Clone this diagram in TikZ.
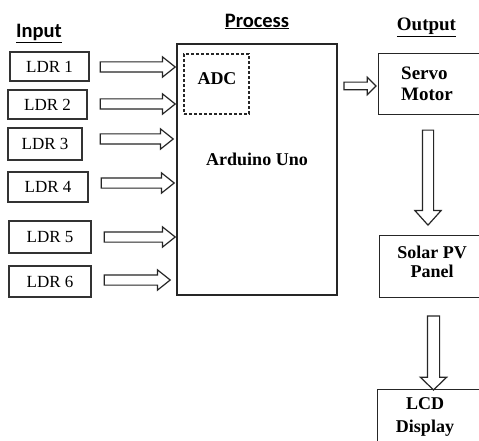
\documentclass[tikz,border=0pt]{standalone}
\usepackage{fontspec}
\setmainfont{Liberation Serif}
\newfontfamily\lblfont{Carlito}
\usetikzlibrary{shapes.arrows}
\tikzset{
  ldrbox/.style={draw=black!80, line width=1.1pt, inner sep=0pt, font=\fontsize{17}{20}\selectfont},
  box/.style={draw=black!85, line width=1.2pt, inner sep=0pt},
  btxt/.style={inner sep=0pt, align=center, font=\fontsize{18}{21}\selectfont\bfseries},
  hdr/.style={inner sep=0pt, font=\fontsize{20.5}{23}\selectfont\lblfont\bfseries},
  blk/.style={single arrow, draw=black!85, line width=1.2pt, inner xsep=0pt, fill=white},
}
\begin{document}
\begin{tikzpicture}[x=1pt,y=-1pt]
\useasboundingbox (0,0) rectangle (479,441);
\clip (0,0) rectangle (479,441);
\fill[white] (0,0) rectangle (479,441);
% headers
\node[hdr] (hin) at (39,33.5) {\underline{Input}};
\node[hdr] (hpr) at (257,21.5) {\underline{Process}};
\node[btxt, font=\fontsize{19}{22}\selectfont\bfseries] (hout) at (426.5,27) {\underline{Output}};
% LDR boxes
\node[ldrbox, minimum width=79, minimum height=29] (l1) at (49.5,66.5) {LDR 1};
\node[ldrbox, minimum width=79, minimum height=29] (l2) at (47.5,104.5) {LDR 2};
\node[ldrbox, minimum width=74, minimum height=32] (l3) at (45,144) {LDR 3};
\node[ldrbox, minimum width=80, minimum height=30] (l4) at (48,187) {LDR 4};
\node[ldrbox, minimum width=82, minimum height=32] (l5) at (50,237) {LDR 5};
\node[ldrbox, minimum width=82, minimum height=31] (l6) at (50,281.5) {LDR 6};
% input arrows
\tikzset{inarr/.style={blk, inner ysep=4.5pt, single arrow head extend=5pt, minimum width=19pt, single arrow tip angle=77}}
\node[inarr, minimum height=75] (a1) at (134.5,67) {};
\node[inarr, minimum height=75] (a2) at (134.5,104) {};
\node[inarr, minimum height=73] (a3) at (133.5,139) {};
\node[inarr, minimum height=73] (a4) at (134.5,183) {};
\node[inarr, minimum height=71] (a5) at (136.5,237) {};
\node[inarr, minimum height=66] (a6) at (134,280) {};
% Arduino
\node[box, minimum width=160, minimum height=251] (ard) at (257,169.5) {};
\node[box, dashed, line width=1.1pt, dash pattern=on 3pt off 2pt, minimum width=65, minimum height=60] (adc) at (216.5,84) {};
\node[btxt] (adct) at (217,79) {ADC};
\node[btxt] (ardt) at (257,159) {Arduino Uno};
% arrow to servo
\node[blk, inner ysep=3.25pt, single arrow head extend=4.75pt, minimum width=16pt, single arrow tip angle=90, minimum height=32] (a7) at (358,86) {};
% Servo
\node[box, anchor=north west, minimum width=110, minimum height=61] (servo) at (378,53) {};
\node[btxt, align=left, anchor=west, font=\fontsize{19}{21}\selectfont\bfseries] (servot) at (401,84) {Servo\\Motor};
% down arrow
\node[blk, rotate=-90, inner ysep=5pt, single arrow head extend=7.5pt, minimum width=25pt, single arrow tip angle=84, minimum height=95] (a8) at (428,174.5) {};
% Solar
\node[box, anchor=north west, minimum width=110, minimum height=62] (solar) at (379,235) {};
\node[btxt, font=\fontsize{18}{19}\selectfont\bfseries] (solart) at (432,262) {Solar PV\\Panel};
% down arrow 2
\node[blk, rotate=-90, inner ysep=5.5pt, single arrow head extend=7pt, minimum width=25pt, single arrow tip angle=92, minimum height=74] (a9) at (433.5,350) {};
% LCD
\node[box, anchor=north west, minimum width=110, minimum height=70] (lcd) at (377,389) {};
\node[btxt, font=\fontsize{18}{23}\selectfont\bfseries] (lcdt) at (425,417) {LCD\\Display};
\end{tikzpicture}
\end{document}
